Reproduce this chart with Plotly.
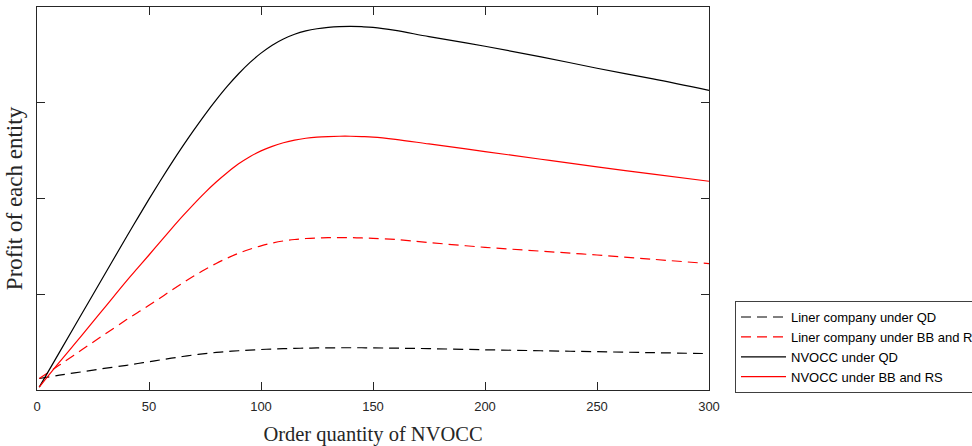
import plotly.graph_objects as go

x_qty = [1, 10, 20, 30, 40, 45, 50, 55, 60, 65, 70, 75, 80, 85, 90, 95, 100, 105,
         110, 115, 120, 125, 130, 135, 140, 145, 150, 160, 175, 200, 225, 250, 275, 300]

liner_qd = [0.12, 0.155, 0.19, 0.225, 0.258,
            0.277, 0.295, 0.314, 0.332, 0.35, 0.366, 0.38, 0.392, 0.402, 0.41, 0.417,
            0.423, 0.428, 0.432, 0.435, 0.437, 0.439, 0.44, 0.441, 0.441, 0.441, 0.44,
            0.437, 0.432, 0.42, 0.41, 0.40, 0.39, 0.38]
liner_bbrs = [0.12, 0.26, 0.42, 0.578, 0.735,
              0.81, 0.885, 0.962, 1.04, 1.116, 1.19, 1.259, 1.322, 1.378, 1.428, 1.47,
              1.506, 1.535, 1.557, 1.572, 1.582, 1.588, 1.591, 1.592, 1.591, 1.588, 1.584,
              1.572, 1.54, 1.49, 1.45, 1.41, 1.365, 1.32]
nvocc_qd = [0.03, 0.393, 0.796, 1.199, 1.60,
            1.798, 1.993, 2.183, 2.367, 2.544, 2.714, 2.877, 3.030, 3.173, 3.303, 3.419,
            3.518, 3.601, 3.666, 3.715, 3.750, 3.773, 3.787, 3.795, 3.797, 3.794, 3.787,
            3.755, 3.69, 3.59, 3.48, 3.36, 3.25, 3.13]
nvocc_bbrs = [0.03, 0.29, 0.57, 0.855, 1.14,
              1.275, 1.41, 1.548, 1.683, 1.815, 1.942, 2.062, 2.172, 2.272, 2.362, 2.437,
              2.497, 2.545, 2.582, 2.61, 2.629, 2.641, 2.647, 2.65, 2.65, 2.647, 2.642,
              2.618, 2.57, 2.49, 2.41, 2.33, 2.255, 2.18]

series_names = ["Liner company under QD", "Liner company under BB and RS",
                "NVOCC under QD", "NVOCC under BB and RS"]
x_ticks = [0, 50, 100, 150, 200, 250, 300]

fig = go.Figure()
styles = [("#000000", "10px,6px"), ("#ff0000", "10px,6px"),
          ("#000000", "solid"), ("#ff0000", "solid")]
for name, ys, (col, dash) in zip(series_names,
                                 [liner_qd, liner_bbrs, nvocc_qd, nvocc_bbrs], styles):
    fig.add_trace(go.Scatter(x=x_qty, y=ys, mode="lines", name=name,
                             line=dict(color=col, width=1.2, dash=dash,
                                       shape="spline", smoothing=1.0)))

axis_common = dict(showline=True, linecolor="#262626", linewidth=1, mirror="ticks",
                   ticks="inside", ticklen=8, tickcolor="#262626", showgrid=False,
                   zeroline=False)

fig.update_layout(
    width=972, height=446,
    margin=dict(l=37, r=263, t=7, b=56, autoexpand=False),
    paper_bgcolor="white", plot_bgcolor="white",
    xaxis=dict(range=[0, 300], tickvals=x_ticks, ticktext=[str(v) for v in x_ticks],
               tickfont=dict(family="Liberation Sans, Arial", size=13, color="#262626"),
               ticklabelstandoff=4,
               title=dict(text="Order quantity of NVOCC", standoff=14,
                          font=dict(family="Liberation Serif, Times New Roman", size=20.5,
                                    color="#262626")),
               **axis_common),
    yaxis=dict(range=[0, 4], tickvals=[1, 2, 3], showticklabels=False,
               title=dict(text="Profit of each entity", standoff=6,
                          font=dict(family="Liberation Serif, Times New Roman", size=23,
                                    color="#262626")),
               **axis_common),
    legend=dict(x=1.0387, xanchor="left", y=-0.008, yanchor="bottom",
                bgcolor="white", bordercolor="#404040", borderwidth=1,
                itemwidth=45,
                font=dict(family="Liberation Sans, Arial", size=13, color="#000000"),
                tracegroupgap=0),
    showlegend=True,
)

fig.write_html("out.html")
